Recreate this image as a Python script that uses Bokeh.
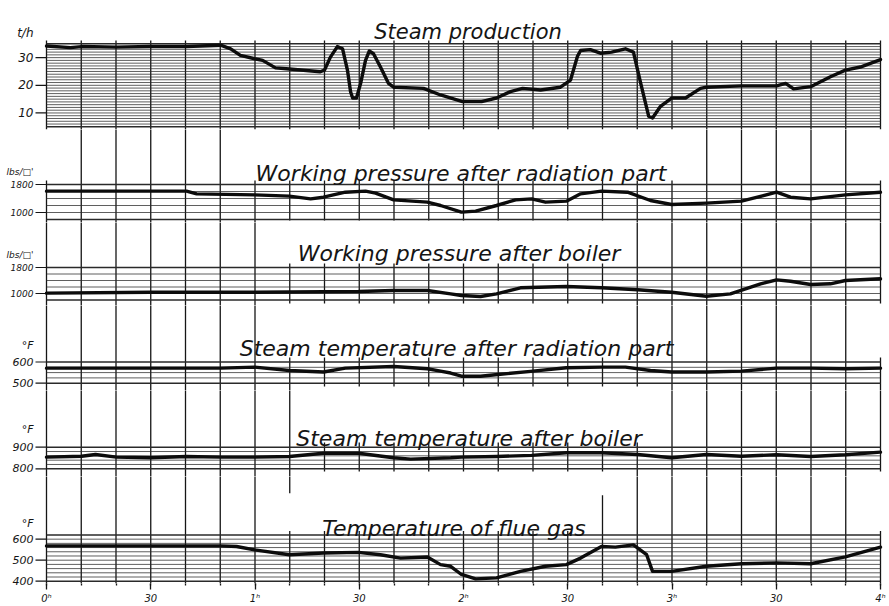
from bokeh.plotting import figure
from bokeh.layouts import column
from bokeh.models import Range1d, FixedTicker, Label
from bokeh.embed import file_html
from bokeh.resources import INLINE

# ---------------- data (time in minutes after 0h) ----------------
steam_t = [0.0, 6.9, 10.1, 20.1, 29.9, 40.3, 50.1, 53.0, 55.8, 59.9, 62.2, 65.9, 69.9,
           78.8, 80.0, 81.7, 83.7, 85.2, 86.6, 87.5, 88.1, 89.2, 90.4, 91.8, 92.9, 94.1,
           96.1, 98.4, 99.9, 108.5, 113.4, 119.7, 125.2, 129.5, 133.5, 137.0, 142.2,
           147.9, 150.8, 152.8, 153.7, 156.5, 159.4, 162.6, 166.6, 168.9, 171.0, 173.3,
           174.4, 176.7, 179.9, 183.9, 188.2, 189.9, 200.0, 210.1, 212.7, 215.0, 219.9,
           225.6, 229.9, 234.2, 240.0]
steam_v = [34.2, 33.6, 34.0, 33.8, 34.0, 34.0, 34.5, 33.2, 30.8, 29.6, 29.0, 26.3, 25.9,
           24.9, 25.5, 30.2, 34.0, 33.2, 25.5, 17.7, 15.4, 15.4, 20.7, 29.0, 32.4, 31.4,
           26.6, 20.7, 19.3, 18.9, 16.5, 14.1, 14.1, 15.4, 17.7, 18.9, 18.3,
           19.3, 21.9, 30.5, 32.6, 32.9, 31.6, 32.0, 33.2, 32.0, 20.7, 8.8,
           8.2, 12.4, 15.4, 15.4, 18.9, 19.3, 19.8, 19.8, 20.7, 18.7, 19.5,
           23.1, 25.5, 26.6, 29.3]

prad_t = [0.0, 40.3, 43.2, 59.9, 69.9, 76.0, 79.7, 86.0, 91.8, 94.7, 99.9, 109.6, 113.4,
          119.4, 123.5, 129.5, 135.0, 139.6, 143.6, 149.6, 153.7, 159.7, 167.2, 173.8,
          179.9, 189.9, 200.0, 210.1, 214.1, 219.9, 229.9, 240.0]
prad_v = [1610, 1610, 1533, 1505, 1467, 1390, 1437, 1580, 1610, 1552, 1362, 1295, 1200,
          1010, 1038, 1200, 1362, 1390, 1295, 1324, 1533, 1610, 1580, 1343,
          1229, 1267, 1324, 1580, 1437, 1390, 1505, 1580]

pboil_t = [0.0, 29.9, 59.9, 89.8, 99.9, 109.6, 116.3, 119.4, 124.9, 129.5, 136.4, 149.6,
           159.7, 170.1, 179.9, 189.9, 196.8, 205.5, 210.1, 214.1, 219.9, 225.6, 229.9, 240.0]
pboil_v = [1010, 1040, 1040, 1060, 1092, 1092, 990, 938, 908, 990, 1175, 1215,
           1175, 1114, 1040, 917, 990, 1298, 1421, 1378, 1277, 1298, 1400, 1452]

trad_t = [0.0, 50.1, 59.9, 69.9, 79.7, 86.0, 99.9, 109.6, 113.4, 116.3, 119.4, 124.9,
          130.6, 139.3, 149.6, 159.7, 166.6, 173.8, 179.9, 189.9, 200.0, 210.1, 219.9,
          229.9, 240.0]
trad_v = [571, 571, 576, 560, 553, 571, 579, 568, 557, 548, 533, 533,
          542, 556, 573, 576, 576, 560, 553, 553, 557, 571, 571,
          568, 571]

tboil_t = [0.0, 10.1, 14.1, 20.1, 29.9, 40.3, 50.1, 59.9, 69.9, 79.7, 89.8, 99.9, 104.8,
           116.3, 119.4, 129.5, 139.6, 149.6, 159.7, 170.1, 179.9, 189.9, 200.0, 210.1,
           219.9, 229.9, 240.0]
tboil_v = [854, 858, 866, 854, 851, 857, 854, 854, 857, 872, 872, 851, 845,
           851, 854, 857, 862, 874, 874, 866, 851, 866, 858, 865,
           857, 865, 877]

flue_t = [0.0, 50.1, 54.7, 59.9, 69.9, 79.7, 89.8, 96.1, 101.9, 109.6, 113.4, 116.3,
          119.4, 123.5, 129.5, 136.4, 143.6, 149.6, 153.7, 159.7, 163.7, 168.9, 172.7,
          174.4, 179.9, 189.9, 200.0, 210.1, 219.9, 229.9, 240.0]
flue_v = [568, 568, 565, 549, 526, 534, 537, 526, 510, 515, 479, 471,
          432, 411, 416, 447, 471, 479, 510, 565, 562, 573, 526,
          447, 447, 471, 483, 487, 483, 516, 562]

titles = ["Steam production",
          "Working pressure after radiation part",
          "Working pressure after boiler",
          "Steam temperature after radiation part",
          "Steam temperature after boiler",
          "Temperature of flue gas"]
units = ["t/h", "lbs/\u25a1'", "lbs/\u25a1'", "\u00b0F", "\u00b0F", "\u00b0F"]
unit_levels = [39, 2170, 2200, 680, 980, 675]
y_tick_values = [[10, 20, 30], [1000, 1800], [1000, 1800], [500, 600], [800, 900], [400, 500, 600]]
grid_levels = [list(range(5, 36, 1)), list(range(800, 1801, 200)), list(range(800, 1801, 200)),
               list(range(500, 601, 25)), list(range(800, 901, 20)), list(range(400, 621, 20))]
x_tick_values = [0, 30, 60, 90, 120, 150, 180, 210, 240]
x_tick_labels = ["0\u02b0", "30", "1\u02b0", "30", "2\u02b0", "30", "3\u02b0", "30", "4\u02b0"]
series = [(steam_t, steam_v), (prad_t, prad_v), (pboil_t, pboil_v),
          (trad_t, trad_v), (tboil_t, tboil_v), (flue_t, flue_v)]

# ---------------- layout / style (page pixel coordinates) ----------------
W = 889
LEFT = 34                      # frame starts at page x 34
PX0, PX1 = 46.0, 880.0         # page x of 0h and 4h
PXM = (PX1 - PX0) / 240.0
XR = Range1d((LEFT - PX0) / PXM, 240 + (W - PX1) / PXM)
FRAMES = [(0, 129), (129, 222), (222, 305), (305, 390), (390, 476), (476, 584)]
BOTTOM = 22
ANCHORS = [((35, 43.3), (5, 126.3)), ((1800, 184), (1000, 212)), ((1800, 267), (1000, 293)),
           ((600, 361.5), (500, 382.7)), ((900, 446.7), (800, 468.3)), ((620, 535), (400, 581.7))]
TITLE_POS = [(467.5, 31, 21), (460.5, 173, 22), (458.5, 253, 22),
             (456, 348, 22), (468.5, 438, 22), (453.5, 528, 22)]
TICK_FONT = ["12px", "9px", "9px", "11px", "11px", "11px"]
DASH_X = 35

PANELS = [(40, 129), (180, 220), (263, 303), (357, 386), (442, 471), (531, 584)]
vsegs = {i: list(PANELS) for i in range(25)}
for i in list(range(1, 6)) + list(range(19, 24)):
    vsegs[i] = [(40, 584)]
vsegs[0] = [(40, 129), (180, 584)]
vsegs[6] = [(40, 129), (180, 584)]
vsegs[7] = [(40, 129), (180, 220), (263, 303), (357, 493), (531, 584)]
vsegs[16] = [(40, 129), (180, 220), (263, 303), (357, 386), (442, 471), (495, 584)]
vsegs[17] = [(40, 129), (180, 386), (442, 584)]
vsegs[18] = [(40, 129), (180, 584)]
vsegs[24] = [(40, 129), (180, 303), (357, 471), (531, 584)]

FONT = "DejaVu Sans"
INK = "#151515"


def val_at(k, ry):
    (va, ya), (vb, yb) = ANCHORS[k]
    return va + (ry - ya) * (vb - va) / (yb - ya)


def minute_at(rx):
    return (rx - PX0) / PXM


figs = []
for k in range(6):
    ft, fb = FRAMES[k]
    last = (k == 5)
    h = fb - ft + (BOTTOM if last else 0)
    p = figure(width=W, height=h, x_range=XR,
               y_range=Range1d(val_at(k, fb), val_at(k, ft)),
               output_backend="svg", toolbar_location=None, title=None,
               x_axis_location="below" if last else None,
               min_border_left=LEFT, min_border_right=0, min_border_top=0,
               min_border_bottom=BOTTOM if last else 0,
               background_fill_color="white", border_fill_color="white",
               outline_line_color=None)
    p.grid.visible = False

    # vertical time lines (every 10 min)
    x0, y0, y1 = [], [], []
    for i in range(25):
        for a, b in vsegs[i]:
            x0.append(i * 10)
            y0.append(val_at(k, a))
            y1.append(val_at(k, b))
    p.segment(x0=x0, y0=y0, x1=x0, y1=y1, line_color=INK, line_width=1.3)

    # horizontal scale lines
    lv = grid_levels[k]
    widths = [1.5 if (v == lv[0] or v == lv[-1]) else 0.75 for v in lv]
    p.segment(x0=[0] * len(lv), y0=lv, x1=[240] * len(lv), y1=lv,
              line_color="#2a2a2a", line_width=widths)

    # scale dashes joining the numbers to the chart
    tv = y_tick_values[k]
    p.segment(x0=[minute_at(DASH_X)] * len(tv), y0=tv, x1=[0] * len(tv), y1=tv,
              line_color=INK, line_width=1.2)

    # the recorded trace
    t, v = series[k]
    p.line(t, v, line_color="#0c0c0c", line_width=3.4, line_join="round", line_cap="round")

    # y axis: numbers plus the unit as top label
    ya = p.yaxis[0]
    ya.ticker = FixedTicker(ticks=tv + [unit_levels[k]])
    ya.major_label_overrides = {unit_levels[k]: units[k]}
    ya.axis_line_color = None
    ya.major_tick_in = 0
    ya.major_tick_out = 0
    ya.minor_tick_in = 0
    ya.minor_tick_out = 0
    ya.major_tick_line_color = None
    ya.minor_tick_line_color = None
    ya.major_label_standoff = 1
    ya.major_label_text_font = FONT
    ya.major_label_text_font_style = "italic"
    ya.major_label_text_font_size = TICK_FONT[k]
    ya.major_label_text_color = INK

    # title
    tx, ty, ts = TITLE_POS[k]
    p.add_layout(Label(x=minute_at(tx), y=val_at(k, ty), text=titles[k], text_align="center",
                       text_baseline="alphabetic", text_font=FONT, text_font_style="italic",
                       text_font_size=f"{ts}px", text_color=INK))

    if last:
        xa = p.xaxis[0]
        xa.ticker = FixedTicker(ticks=x_tick_values, minor_ticks=list(range(0, 241, 10)))
        xa.major_label_overrides = {tv_: lab for tv_, lab in zip(x_tick_values, x_tick_labels)}
        xa.axis_line_color = None
        xa.major_tick_in = 0
        xa.major_tick_out = 6
        xa.minor_tick_in = 0
        xa.minor_tick_out = 2
        xa.major_tick_line_color = INK
        xa.minor_tick_line_color = INK
        xa.major_tick_line_width = 1.3
        xa.minor_tick_line_width = 1.3
        xa.major_label_standoff = 3
        xa.major_label_text_font = FONT
        xa.major_label_text_font_style = "italic"
        xa.major_label_text_font_size = "10px"
        xa.major_label_text_color = INK
    figs.append(p)

layout = column(*figs, spacing=0)
open("out.html", "w").write(file_html(layout, INLINE))
